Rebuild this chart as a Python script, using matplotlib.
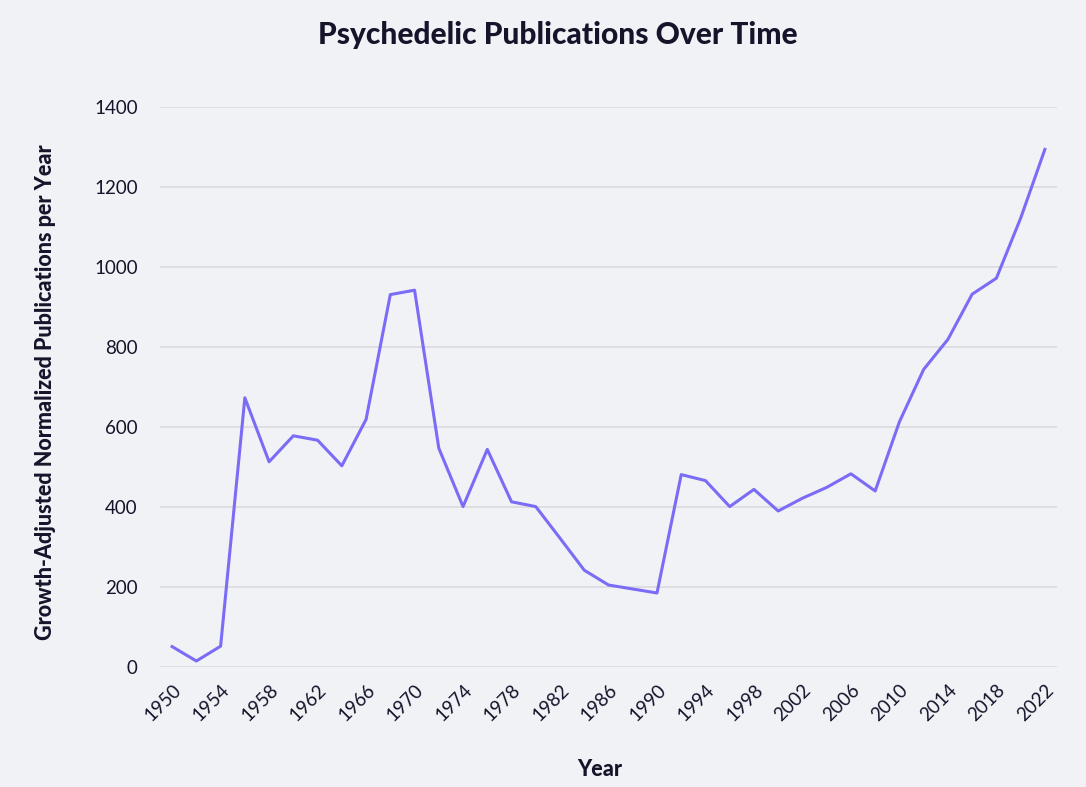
import numpy as np
import matplotlib
matplotlib.use("Agg")
from matplotlib import pyplot as plt

# values, one point every two years
years = list(range(1950, 2023, 2))
pubs = [51, 15, 52, 673, 513, 578, 567, 503, 619, 931,
        942, 547, 401, 544, 413, 401, 322, 242, 205, 195,
        185, 481, 466, 401, 444, 390, 422, 449, 483, 440,
        613, 744, 819, 932, 972, 1122, 1294]
tick_years = list(range(1950, 2023, 4))
y_ticks = [0, 200, 400, 600, 800, 1000, 1200, 1400]

bg = '#f1f2f6'
ink = '#14142b'

plt.rcParams['font.family'] = ['Lato', 'DejaVu Sans']

fig = plt.figure(figsize=(10.86, 7.87), dpi=100, facecolor=bg)
# axes placed in pixel terms: x 160..1057, y 107 (1400) .. 667 (0)
W, H = 1086, 787
ax = fig.add_axes([160 / W, 1 - 667 / H, (1057 - 160) / W, (667 - 107) / H])
ax.set_facecolor(bg)

ax.plot(years, pubs, color='#7b6cf6', linewidth=2.2, clip_on=False, zorder=3)

ax.set_xlim(1949.0, 2023.0)
ax.set_ylim(0, 1400)
ax.set_yticks(y_ticks)
ax.set_xticks(tick_years)
ax.set_xticklabels([str(y) for y in tick_years], rotation=45, ha='right',
                   rotation_mode='anchor')
ax.grid(axis='y', color='#d9d9dc', linewidth=1.1)
ax.grid(axis='x', visible=False)
ax.set_axisbelow(True)
for s in ax.spines.values():
    s.set_visible(False)
ax.tick_params(axis='both', length=0, labelsize=13.5, colors=ink)
ax.tick_params(axis='y', pad=16)
ax.tick_params(axis='x', pad=10)

fig.text(558 / W, 1 - 35 / H, 'Psychedelic Publications Over Time', ha='center',
         va='center', fontsize=21.5, fontweight='black', color=ink)
fig.text(600 / W, 1 - 769 / H, 'Year', ha='center', va='center',
         fontsize=15.5, fontweight='black', color=ink)
fig.text(46 / W, 1 - 392 / H, 'Growth-Adjusted Normalized Publications per Year',
         ha='center', va='center', rotation=90, fontsize=15.5,
         fontweight='black', color=ink)

fig.savefig('out.png', dpi=100, facecolor=bg)
